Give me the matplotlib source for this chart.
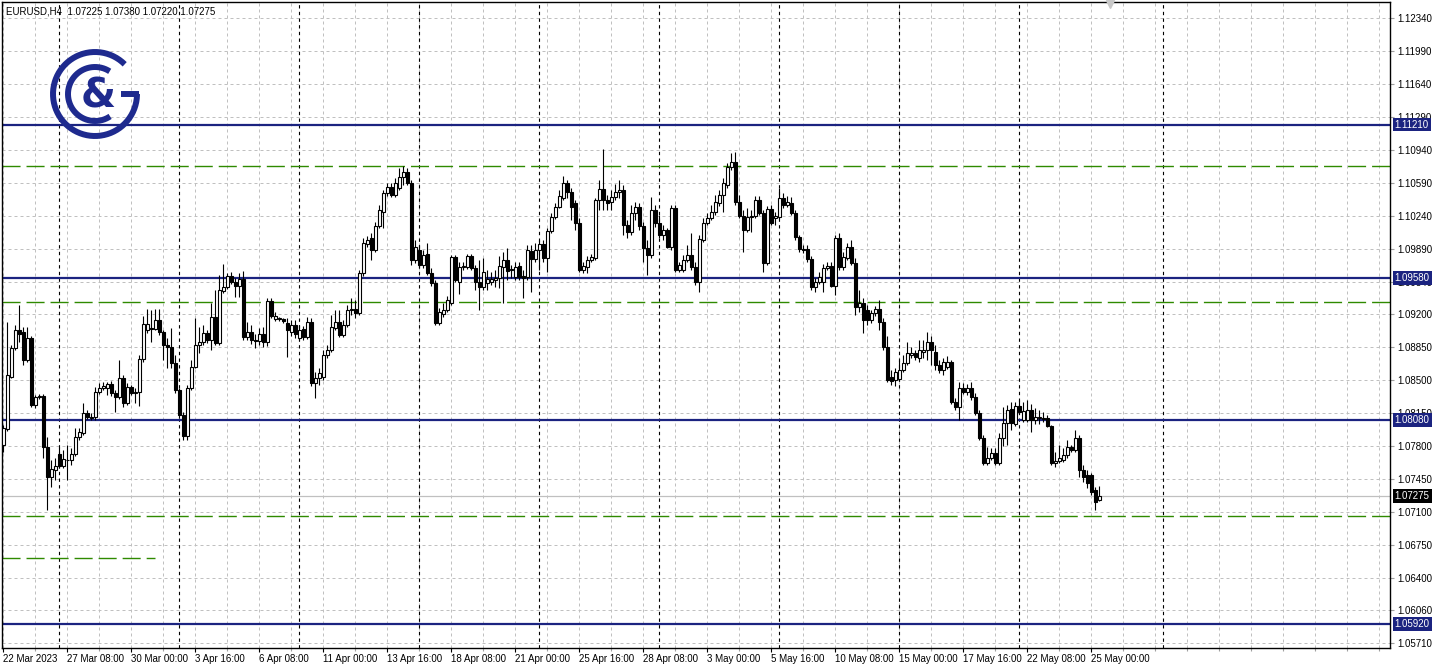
import numpy as np
import pandas as pd
import matplotlib
matplotlib.use("Agg")
import matplotlib.pyplot as plt

plt.rcParams["font.family"] = ["Liberation Sans", "DejaVu Sans"]

# EURUSD H4 bars
first_bar = "2023-03-22 16:00"
header = "EURUSD,H4  1.07225 1.07380 1.07220 1.07275"

bar_open = [
    1.0781, 1.0798, 1.0853, 1.0884, 1.0903, 1.0901, 1.0871, 1.0895, 1.0824, 1.0832,
    1.0833, 1.0779, 1.0747, 1.0755, 1.0772, 1.0759, 1.0765, 1.0765, 1.0772, 1.0790,
    1.0794, 1.0815, 1.0811, 1.0811, 1.0837, 1.0842, 1.0842, 1.0846, 1.0836, 1.0832,
    1.0852, 1.0826, 1.0843, 1.0836, 1.0837, 1.0872, 1.0903, 1.0905, 1.0904, 1.0914,
    1.0901, 1.0887, 1.0885, 1.0868, 1.0840, 1.0813, 1.0791, 1.0842, 1.0864, 1.0887,
    1.0890, 1.0900, 1.0893, 1.0917, 1.0889, 1.0945, 1.0949, 1.0960, 1.0954, 1.0950,
    1.0957, 1.0896, 1.0901, 1.0893, 1.0892, 1.0899, 1.0890, 1.0934, 1.0915, 1.0915,
    1.0915, 1.0911, 1.0901, 1.0909, 1.0895, 1.0904, 1.0896, 1.0912, 1.0847, 1.0852,
    1.0853, 1.0877, 1.0882, 1.0905, 1.0912, 1.0898, 1.0908, 1.0924, 1.0925, 1.0921,
    1.0964, 1.0994, 1.1001, 1.0988, 1.1013, 1.1028, 1.1048, 1.1055, 1.1046, 1.1054,
    1.1065, 1.1071, 1.1059, 1.0977, 1.0988, 1.0972, 1.0984, 1.0964, 1.0953, 1.0911,
    1.0920, 1.0924, 1.0932, 1.0981, 1.0954, 1.0970, 1.0970, 1.0982, 1.0969, 1.0954,
    1.0949, 1.0953, 1.0954, 1.0956, 1.0958, 1.0970, 1.0977, 1.0967, 1.0959, 1.0971,
    1.0960, 1.0959, 1.0987, 1.0978, 1.0988, 1.0994, 1.0980, 1.1008, 1.1023, 1.1034,
    1.1043, 1.1059, 1.1049, 1.1038, 1.1017, 1.0967, 1.0970, 1.0977, 1.0980, 1.1041,
    1.1053, 1.1041, 1.1039, 1.1044, 1.1049, 1.1052, 1.1014, 1.1007, 1.1027, 1.1034,
    1.1013, 1.0990, 1.0983, 1.1030, 1.1017, 1.1004, 1.1009, 1.0991, 1.1032, 1.0967,
    1.0967, 1.0977, 1.0983, 1.0970, 1.0954, 1.0999, 1.1017, 1.1022, 1.1028, 1.1038,
    1.1046, 1.1057, 1.1076, 1.1081, 1.1039, 1.1024, 1.1009, 1.1023, 1.1024, 1.1041,
    1.1027, 1.0974, 1.1031, 1.1022, 1.1023, 1.1043, 1.1036, 1.1038, 1.1027, 1.1002,
    1.0989, 1.0989, 1.0978, 1.0949, 1.0954, 1.0954, 1.0969, 1.0971, 1.0950, 1.1001,
    1.0970, 1.0980, 1.0991, 1.0974, 1.0928, 1.0932, 1.0924, 1.0914, 1.0921, 1.0925,
    1.0912, 1.0885, 1.0853, 1.0850, 1.0851, 1.0861, 1.0868, 1.0877, 1.0879, 1.0873,
    1.0880, 1.0882, 1.0890, 1.0880, 1.0866, 1.0861, 1.0864, 1.0869, 1.0827, 1.0822,
    1.0842, 1.0837, 1.0842, 1.0832, 1.0815, 1.0789, 1.0762, 1.0767, 1.0773, 1.0762,
    1.0789, 1.0805, 1.0819, 1.0804, 1.0823, 1.0808, 1.0808, 1.0818, 1.0808, 1.0810,
    1.0810, 1.0810, 1.0801, 1.0762, 1.0764, 1.0765, 1.0771, 1.0779, 1.0776, 1.0789,
    1.0755, 1.0749, 1.0749, 1.0734, 1.07225,
]
bar_high = [
    1.0802, 1.0912, 1.0887, 1.0908, 1.0930, 1.0906, 1.0906, 1.0897, 1.0834, 1.0835,
    1.0835, 1.0790, 1.0765, 1.0768, 1.0779, 1.0776, 1.0781, 1.0778, 1.0799, 1.0799,
    1.0826, 1.0818, 1.0815, 1.0843, 1.0847, 1.0848, 1.0848, 1.0849, 1.0840, 1.0871,
    1.0856, 1.0847, 1.0845, 1.0842, 1.0877, 1.0918, 1.0925, 1.0924, 1.0925, 1.0925,
    1.0903, 1.0895, 1.0905, 1.0877, 1.0842, 1.0816, 1.0845, 1.0871, 1.0916, 1.0906,
    1.0908, 1.0903, 1.0932, 1.0946, 1.0961, 1.0973, 1.0964, 1.0965, 1.0958, 1.0964,
    1.0966, 1.0912, 1.0908, 1.0899, 1.0905, 1.0906, 1.0937, 1.0937, 1.0922, 1.0917,
    1.0916, 1.0916, 1.0914, 1.0914, 1.0909, 1.0907, 1.0917, 1.0916, 1.0859, 1.0863,
    1.0882, 1.0887, 1.0919, 1.0924, 1.0924, 1.0914, 1.0930, 1.0937, 1.0935, 1.0967,
    1.1001, 1.1003, 1.1006, 1.1018, 1.1036, 1.1052, 1.1059, 1.1059, 1.1064, 1.1075,
    1.1077, 1.1075, 1.1062, 1.0999, 1.0993, 1.0988, 1.0995, 1.0969, 1.0956, 1.0927,
    1.0932, 1.0939, 1.0983, 1.0983, 1.0975, 1.0975, 1.0984, 1.0984, 1.0972, 1.0977,
    1.0979, 1.0967, 1.0965, 1.0967, 1.0982, 1.0986, 1.0990, 1.0972, 1.0975, 1.0975,
    1.0967, 1.0993, 1.0993, 1.0995, 1.0999, 1.0999, 1.1011, 1.1027, 1.1038, 1.1052,
    1.1066, 1.1062, 1.1054, 1.1041, 1.1022, 1.0975, 1.0982, 1.0984, 1.1043, 1.1062,
    1.1095, 1.1046, 1.1052, 1.1058, 1.1062, 1.1057, 1.1020, 1.1036, 1.1039, 1.1038,
    1.1018, 1.0999, 1.1044, 1.1036, 1.1025, 1.1014, 1.1011, 1.1036, 1.1036, 1.0975,
    1.0983, 1.0993, 1.1006, 1.0975, 1.1004, 1.1022, 1.1027, 1.1036, 1.1046, 1.1052,
    1.1064, 1.1080, 1.1091, 1.1092, 1.1046, 1.1030, 1.1033, 1.1030, 1.1045, 1.1045,
    1.1030, 1.1035, 1.1036, 1.1028, 1.1054, 1.1048, 1.1045, 1.1044, 1.1030, 1.1004,
    1.0993, 1.0993, 1.0982, 1.0958, 1.0965, 1.0973, 1.0975, 1.0975, 1.1004, 1.1006,
    1.0986, 1.0995, 1.0999, 1.0979, 1.0946, 1.0937, 1.0930, 1.0924, 1.0929, 1.0935,
    1.0916, 1.0897, 1.0861, 1.0863, 1.0871, 1.0877, 1.0890, 1.0885, 1.0882, 1.0893,
    1.0893, 1.0901, 1.0897, 1.0887, 1.0871, 1.0873, 1.0876, 1.0871, 1.0831, 1.0848,
    1.0847, 1.0846, 1.0848, 1.0836, 1.0818, 1.0792, 1.0779, 1.0778, 1.0778, 1.0794,
    1.0822, 1.0824, 1.0827, 1.0827, 1.0829, 1.0827, 1.0829, 1.0825, 1.0820, 1.0818,
    1.0816, 1.0813, 1.0803, 1.0774, 1.0781, 1.0778, 1.0787, 1.0781, 1.0797, 1.0792,
    1.0760, 1.0755, 1.0752, 1.0737, 1.0738,
]
bar_low = [
    1.0774, 1.0796, 1.0852, 1.0882, 1.0890, 1.0866, 1.0869, 1.0822, 1.0821, 1.0830,
    1.0768, 1.0712, 1.0737, 1.0744, 1.0757, 1.0757, 1.0744, 1.0760, 1.0770, 1.0787,
    1.0792, 1.0809, 1.0808, 1.0808, 1.0835, 1.0840, 1.0834, 1.0833, 1.0816, 1.0830,
    1.0822, 1.0824, 1.0834, 1.0826, 1.0823, 1.0869, 1.0900, 1.0890, 1.0903, 1.0898,
    1.0871, 1.0863, 1.0863, 1.0836, 1.0810, 1.0787, 1.0787, 1.0840, 1.0863, 1.0879,
    1.0887, 1.0889, 1.0882, 1.0887, 1.0887, 1.0942, 1.0947, 1.0952, 1.0938, 1.0938,
    1.0893, 1.0893, 1.0888, 1.0884, 1.0887, 1.0885, 1.0886, 1.0916, 1.0913, 1.0913,
    1.0911, 1.0875, 1.0897, 1.0895, 1.0893, 1.0893, 1.0894, 1.0844, 1.0831, 1.0845,
    1.0850, 1.0874, 1.0880, 1.0903, 1.0896, 1.0896, 1.0906, 1.0919, 1.0916, 1.0919,
    1.0960, 1.0991, 1.0977, 1.0986, 1.1011, 1.1011, 1.1045, 1.1044, 1.1044, 1.1052,
    1.1057, 1.1057, 1.0972, 1.0974, 1.0969, 1.0969, 1.0961, 1.0950, 1.0908, 1.0908,
    1.0917, 1.0922, 1.0930, 1.0954, 1.0941, 1.0967, 1.0968, 1.0967, 1.0946, 1.0924,
    1.0946, 1.0946, 1.0951, 1.0949, 1.0948, 1.0932, 1.0956, 1.0958, 1.0956, 1.0956,
    1.0937, 1.0956, 1.0944, 1.0975, 1.0967, 1.0975, 1.0965, 1.1006, 1.1021, 1.1032,
    1.1041, 1.1043, 1.1020, 1.1009, 1.0965, 1.0964, 1.0964, 1.0975, 1.0977, 1.1030,
    1.1030, 1.1030, 1.1030, 1.1041, 1.1043, 1.1004, 1.1001, 1.1004, 1.1020, 1.1009,
    1.0975, 1.0961, 1.0980, 1.1012, 1.1001, 1.0999, 1.0990, 1.0988, 1.0965, 1.0965,
    1.0965, 1.0975, 1.0967, 1.0951, 1.0943, 1.0996, 1.1015, 1.1020, 1.1025, 1.1035,
    1.1028, 1.1054, 1.1073, 1.1036, 1.1022, 1.0986, 1.1007, 1.1007, 1.1022, 1.1025,
    1.0965, 1.0972, 1.1015, 1.1015, 1.1021, 1.1033, 1.1034, 1.1025, 1.0999, 1.0986,
    1.0985, 1.0975, 1.0946, 1.0943, 1.0952, 1.0943, 1.0967, 1.0949, 1.0940, 1.0967,
    1.0967, 1.0977, 1.0972, 1.0919, 1.0922, 1.0900, 1.0908, 1.0911, 1.0918, 1.0903,
    1.0882, 1.0848, 1.0845, 1.0844, 1.0849, 1.0859, 1.0866, 1.0874, 1.0871, 1.0869,
    1.0874, 1.0871, 1.0866, 1.0861, 1.0858, 1.0856, 1.0862, 1.0825, 1.0818, 1.0808,
    1.0835, 1.0834, 1.0829, 1.0813, 1.0787, 1.0760, 1.0760, 1.0765, 1.0760, 1.0760,
    1.0780, 1.0781, 1.0797, 1.0801, 1.0814, 1.0806, 1.0806, 1.0795, 1.0804, 1.0804,
    1.0806, 1.0800, 1.0760, 1.0758, 1.0762, 1.0763, 1.0768, 1.0774, 1.0774, 1.0747,
    1.0742, 1.0736, 1.0728, 1.0712, 1.0722,
]
bar_close = [
    1.0799, 1.0856, 1.0884, 1.0903, 1.0899, 1.0871, 1.0895, 1.0824, 1.0832, 1.0833,
    1.0779, 1.0747, 1.0756, 1.0759, 1.0759, 1.0766, 1.0765, 1.0772, 1.0790, 1.0795,
    1.0815, 1.0811, 1.0810, 1.0837, 1.0842, 1.0844, 1.0846, 1.0836, 1.0832, 1.0852,
    1.0826, 1.0843, 1.0836, 1.0838, 1.0872, 1.0910, 1.0910, 1.0904, 1.0914, 1.0901,
    1.0887, 1.0885, 1.0868, 1.0840, 1.0813, 1.0791, 1.0842, 1.0864, 1.0887, 1.0890,
    1.0900, 1.0893, 1.0917, 1.0889, 1.0946, 1.0949, 1.0960, 1.0954, 1.0950, 1.0957,
    1.0896, 1.0901, 1.0893, 1.0892, 1.0899, 1.0890, 1.0934, 1.0918, 1.0918, 1.0916,
    1.0913, 1.0903, 1.0908, 1.0899, 1.0903, 1.0896, 1.0912, 1.0847, 1.0852, 1.0858,
    1.0877, 1.0882, 1.0906, 1.0912, 1.0898, 1.0909, 1.0924, 1.0925, 1.0921, 1.0964,
    1.0995, 1.0999, 1.0988, 1.1013, 1.1030, 1.1048, 1.1055, 1.1046, 1.1059, 1.1065,
    1.1071, 1.1059, 1.0977, 1.0991, 1.0972, 1.0983, 1.0964, 1.0953, 1.0911, 1.0922,
    1.0924, 1.0935, 1.0981, 1.0956, 1.0970, 1.0971, 1.0982, 1.0969, 1.0954, 1.0949,
    1.0965, 1.0957, 1.0957, 1.0958, 1.0971, 1.0977, 1.0966, 1.0968, 1.0970, 1.0959,
    1.0958, 1.0988, 1.0978, 1.0988, 1.0994, 1.0980, 1.1008, 1.1023, 1.1034, 1.1045,
    1.1059, 1.1049, 1.1034, 1.1017, 1.0967, 1.0971, 1.0977, 1.0981, 1.1041, 1.1053,
    1.1041, 1.1038, 1.1044, 1.1049, 1.1052, 1.1014, 1.1007, 1.1027, 1.1034, 1.1013,
    1.0990, 1.0983, 1.1030, 1.1017, 1.1004, 1.1009, 1.0991, 1.1032, 1.0967, 1.0972,
    1.0977, 1.0983, 1.0970, 1.0954, 1.1000, 1.1017, 1.1022, 1.1028, 1.1039, 1.1046,
    1.1059, 1.1076, 1.1081, 1.1039, 1.1024, 1.1009, 1.1023, 1.1024, 1.1041, 1.1027,
    1.0974, 1.1031, 1.1017, 1.1024, 1.1043, 1.1036, 1.1039, 1.1027, 1.1002, 1.0989,
    1.0988, 1.0978, 1.0949, 1.0954, 1.0959, 1.0969, 1.0971, 1.0950, 1.1001, 1.0970,
    1.0981, 1.0991, 1.0974, 1.0928, 1.0932, 1.0914, 1.0914, 1.0921, 1.0925, 1.0912,
    1.0885, 1.0850, 1.0849, 1.0859, 1.0861, 1.0868, 1.0879, 1.0879, 1.0875, 1.0882,
    1.0882, 1.0890, 1.0882, 1.0866, 1.0861, 1.0869, 1.0869, 1.0827, 1.0822, 1.0842,
    1.0837, 1.0842, 1.0832, 1.0815, 1.0789, 1.0762, 1.0768, 1.0773, 1.0762, 1.0789,
    1.0805, 1.0818, 1.0805, 1.0823, 1.0816, 1.0817, 1.0818, 1.0808, 1.0811, 1.0811,
    1.0809, 1.0801, 1.0762, 1.0764, 1.0768, 1.0771, 1.0779, 1.0776, 1.0789, 1.0755,
    1.0747, 1.0741, 1.0731, 1.0721, 1.07275,
]

price_ticks = [1.12340, 1.11990, 1.11640, 1.11290, 1.10940, 1.10590, 1.10240, 1.09890,
               1.09540, 1.09200, 1.08850, 1.08500, 1.08150, 1.07800, 1.07450, 1.07100,
               1.06750, 1.06400, 1.06060, 1.05710]
time_labels = ["22 Mar 2023", "27 Mar 08:00", "30 Mar 00:00", "3 Apr 16:00", "6 Apr 08:00",
               "11 Apr 00:00", "13 Apr 16:00", "18 Apr 08:00", "21 Apr 00:00", "25 Apr 16:00",
               "28 Apr 08:00", "3 May 00:00", "5 May 16:00", "10 May 08:00", "15 May 00:00",
               "17 May 16:00", "22 May 08:00", "25 May 00:00"]
level_lines = [1.11210, 1.09580, 1.08080, 1.05920]
green_lines = [1.1077, 1.0933, 1.0706]
green_stub = 1.0662
last_price = 1.07275
separators = ["2023-03-27", "2023-04-03", "2023-04-10", "2023-04-17", "2023-04-24",
              "2023-05-01", "2023-05-08", "2023-05-15", "2023-05-22", "2023-05-30"]

navy = "#1b2380"
green = "#2f8a00"
grid_c = "#c0c0c0"

n = len(bar_close)
# 4h bars on weekdays, carried on past the last bar for the empty right side
t_all = pd.date_range(first_bar, periods=700, freq="4h")
t_all = t_all[t_all.dayofweek < 5]
times = t_all[:n]
fmt = [f"{t.day} {t.strftime('%b %H:%M')}" for t in times]
label_pos = [0] + [fmt.index(s) for s in time_labels[1:]]
sep_pos = [int(np.searchsorted(t_all, pd.Timestamp(d))) for d in separators]

W, H, DPI = 1436, 669, 100
fig = plt.figure(figsize=(W / DPI, H / DPI), dpi=DPI)
left, right, top, bottom = 2, 1390, 2, 648
ax = fig.add_axes([left / W, 1 - bottom / H, (right - left) / W, (bottom - top) / H])

bar_px = 4.0
x_lo = -1.3 / bar_px
ax.set_xlim(x_lo, x_lo + (right - left) / bar_px)
ax.set_ylim(1.05661, 1.12509)

# grid
ax.set_axisbelow(True)
ax.set_yticks(price_ticks)
ax.set_yticklabels([f"{p:.5f}" for p in price_ticks])
ax.yaxis.tick_right()
ax.tick_params(axis="y", length=3, width=0.8, color="#a0a0a0", labelsize=7, pad=2)
ax.set_xticks(label_pos)
ax.set_xticklabels(time_labels, ha="left")
ax.set_xticks(np.arange(0, x_lo + (right - left) / bar_px, 8), minor=True)
ax.tick_params(axis="x", which="major", length=3, width=0.8, color="black", labelsize=7, pad=1)
ax.tick_params(axis="x", which="minor", length=2, width=0.8, color="#a0a0a0")
ax.grid(True, which="both", color=grid_c, ls=(0, (3, 3)), lw=0.72)

for p in sep_pos:
    ax.axvline(p, color="black", ls=(0, (3, 3)), lw=0.8, zorder=1.5)

for p in green_lines:
    ax.axhline(p, color=green, ls=(0, (13, 4.3)), lw=1.0, zorder=1.6)
ax.plot([x_lo, 38], [green_stub, green_stub], color=green, ls=(0, (13, 4.3)), lw=1.0, zorder=1.6)
ax.axhline(last_price, color="#c0c0c0", lw=0.9, zorder=1.6)
for p in level_lines:
    ax.axhline(p, color=navy, lw=1.6, zorder=1.7)

# candles
x = np.arange(n)
o = np.array(bar_open)
hi = np.array(bar_high)
lo = np.array(bar_low)
c = np.array(bar_close)
up = c >= o
ax.vlines(x, lo, hi, color="black", lw=0.8, zorder=3)
ax.bar(x[up], c[up] - o[up], bottom=o[up], width=0.62, color="white",
       edgecolor="black", linewidth=0.8, zorder=4)
ax.bar(x[~up], o[~up] - c[~up], bottom=c[~up], width=0.62, color="black",
       edgecolor="black", linewidth=0.8, zorder=4)

for s in ax.spines.values():
    s.set_color("black")
    s.set_linewidth(1.0)

# price tags on the right axis
tr = ax.get_yaxis_transform()
for p in level_lines:
    ax.text(1.0034, p, f"{p:.5f}", transform=tr, fontsize=7, color="white", va="center", ha="left",
            clip_on=False, zorder=10,
            bbox=dict(boxstyle="square,pad=0.2", fc=navy, ec="none"))
ax.text(1.0034, last_price, f"{last_price:.5f}", transform=tr, fontsize=7, color="white",
        va="center", ha="left", clip_on=False, zorder=10,
        bbox=dict(boxstyle="square,pad=0.2", fc="black", ec="none"))

fig.text(6 / W, 1 - 11 / H, header, fontsize=7, va="center", ha="left", color="black")

# logo overlay in pixel coordinates
lg = fig.add_axes([0, 0, 1, 1], facecolor="none")
lg.set_xlim(0, W)
lg.set_ylim(H, 0)
lg.axis("off")
logo_c = "#1e2a8e"
cx, cy = 95, 94
phi = np.radians(np.linspace(45, 360, 200))
lg.plot(cx + 42 * np.cos(phi), cy - 42 * np.sin(phi), color=logo_c, lw=4.3, solid_capstyle="butt")
lg.plot([cx + 44, cx + 26], [cy, cy], color=logo_c, lw=4.3, solid_capstyle="butt")
phi = np.radians(np.linspace(57, 304, 200))
lg.plot(cx + 27 * np.cos(phi), cy - 27 * np.sin(phi), color=logo_c, lw=4.3, solid_capstyle="butt")
lg.text(cx + 3, cy + 2, "&", fontsize=29, fontweight="bold", color=logo_c, ha="center", va="center",
        family="DejaVu Sans")
lg.plot([1110], [4], marker="v", color="#c8c8c8", ms=6)

fig.savefig("out.png", dpi=DPI, facecolor="white")
